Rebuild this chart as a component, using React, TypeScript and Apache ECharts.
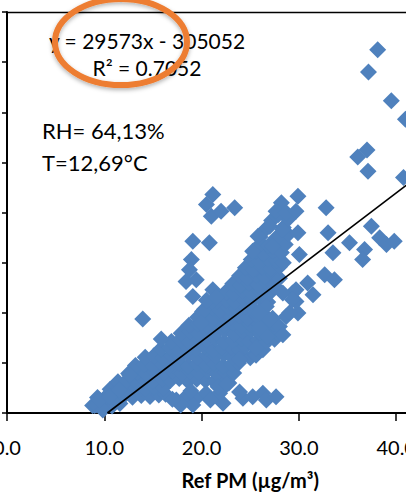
import React, { useEffect, useRef } from "react";
import * as echarts from "echarts";

// Trendline (from the chart's label)
const slope = 29573;
const intercept = -305052;
const equationText = "y = 29573x - 305052";
const r2Text = "R² = 0.7052";
const rhText = "RH= 64,13%";
const tText = "T=12,69°C";
const xAxisTitle = "Ref PM (µg/m³)";

const xTicks = { min: 0, max: 50, interval: 10 };
const yTicks = { min: 0, max: 1600000, interval: 200000 };

const highOutliers: number[][] = [
  [38.1, 1449000], [37.15, 1361000], [39.5, 1246000], [40.95, 1172000],
  [37.0, 1049000], [36.05, 1021000], [37.1, 965000], [40.75, 940000],
];

const upperCluster: number[][] = [
  [29.9, 865000], [21.15, 872000], [20.5, 832000], [21.0, 785000], [22.0, 805000],
  [23.4, 819000], [28.2, 839000], [27.65, 805000], [28.7, 799000], [29.7, 805000],
  [32.8, 819000], [25.8, 705000], [27.0, 745000], [28.35, 732000], [29.9, 719000],
  [33.0, 719000], [19.1, 685000], [20.8, 679000], [25.25, 645000], [27.3, 665000],
  [30.05, 632000], [33.5, 639000], [35.2, 679000], [36.75, 652000], [37.45, 745000],
  [38.3, 699000], [39.0, 672000], [39.8, 685000], [36.55, 612000], [18.95, 612000],
  [18.75, 572000], [18.4, 525000], [19.45, 532000], [19.1, 465000], [21.15, 492000],
  [21.15, 445000], [20.1, 405000], [19.95, 359000], [20.5, 450000], [21.5, 462000],
];

const rightScatter: number[][] = [
  [32.65, 552000], [33.65, 532000], [30.9, 519000], [31.45, 472000], [29.35, 479000],
  [28.35, 479000], [29.9, 399000], [28.7, 385000], [28.0, 345000], [28.35, 312000],
  [26.8, 305000], [25.6, 259000], [23.9, 212000], [25.95, 339000], [27.0, 372000],
  [26.65, 425000], [25.95, 399000], [29.05, 400000], [29.7, 445000], [29.7, 492000],
  [29.35, 452000], [13.95, 375000], [15.85, 295000],
];

const bottomCluster: number[][] = [
  [17.4, 52000], [18.4, 65000], [19.45, 59000], [20.45, 79000], [19.1, 32000],
  [22.2, 39000], [21.85, 79000], [24.25, 59000], [25.25, 65000], [26.3, 79000],
  [26.65, 52000], [27.65, 65000], [17.85, 32000], [20.9, 52000], [23.9, 84000],
  [17.0, 55000], [18.9, 88000], [21.7, 105000], [22.6, 115000],
  [8.8, 30000], [9.15, 32000], [9.85, 12000], [9.5, 52000], [10.55, 65000],
  [11.55, 92000], [12.6, 152000],
];

const mainBand: number[][] = [
  [9.0, 30000], [9.9, 35000], [10.8, 28000], [11.6, 38000],
  [9.3, 62000], [10.2, 66000], [11.1, 60000], [12.0, 68000], [12.9, 63000], [13.8, 70000], [14.7, 66000], [15.6, 72000], [16.3, 75000],
  [10.6, 95000], [11.5, 99000], [12.4, 93000], [13.3, 100000], [14.2, 97000], [15.1, 104000], [16.0, 100000],
  [11.4, 125000], [12.3, 130000], [13.2, 126000], [14.1, 133000], [15.0, 128000], [15.9, 136000], [16.8, 130000], [17.7, 138000], [18.6, 127000], [19.5, 135000], [20.4, 130000], [21.3, 126000], [22.2, 134000], [22.8, 120000],
  [12.5, 158000], [13.4, 163000], [14.3, 157000], [15.2, 165000], [16.1, 160000], [17.0, 168000], [17.9, 158000], [18.8, 166000], [19.7, 161000], [20.6, 170000], [21.5, 158000], [22.4, 165000], [23.3, 160000],
  [13.2, 190000], [14.1, 195000], [15.0, 188000], [15.9, 198000], [16.8, 192000], [17.7, 200000], [18.6, 189000], [19.5, 197000], [20.4, 193000], [21.3, 200000], [22.2, 188000], [23.1, 195000], [23.8, 200000],
  [14.2, 222000], [15.1, 228000], [16.0, 220000], [16.9, 230000], [17.8, 224000], [18.7, 232000], [19.6, 221000], [20.5, 228000], [21.4, 225000], [22.3, 233000], [23.2, 222000], [24.2, 229000], [25.0, 220000], [25.6, 230000],
  [15.8, 255000], [16.7, 260000], [17.6, 252000], [18.5, 262000], [19.4, 256000], [20.3, 264000], [21.2, 250000], [22.1, 258000], [23.0, 263000], [23.9, 254000], [24.5, 266000], [26.3, 252000],
  [16.9, 285000], [17.8, 292000], [18.7, 284000], [19.6, 295000], [20.5, 288000], [21.4, 296000], [22.3, 283000], [23.2, 290000], [24.1, 298000], [24.9, 286000], [25.8, 290000], [26.7, 284000], [27.5, 294000],
  [17.9, 318000], [18.8, 325000], [19.7, 316000], [20.6, 327000], [21.5, 320000], [22.4, 328000], [23.3, 315000], [24.2, 324000], [25.1, 330000], [26.0, 318000], [26.9, 324000], [27.8, 316000],
  [18.7, 350000], [19.6, 356000], [20.5, 348000], [21.4, 358000], [22.3, 351000], [23.2, 360000], [24.1, 347000], [25.0, 355000], [25.7, 362000], [26.6, 350000], [27.4, 356000],
  [19.6, 382000], [20.5, 388000], [21.3, 380000], [22.1, 391000], [23.0, 383000], [23.9, 390000], [24.8, 379000], [25.7, 387000], [26.6, 383000], [27.3, 378000],
  [20.3, 414000], [21.1, 420000], [21.9, 412000], [22.7, 423000], [23.6, 416000], [24.5, 424000], [25.4, 410000], [26.2, 419000],
  [21.6, 446000], [22.5, 452000], [23.4, 444000], [24.3, 455000], [25.2, 448000], [26.1, 456000], [26.8, 443000],
  [22.5, 484000], [23.3, 476000], [24.2, 487000], [25.1, 480000], [26.0, 488000], [26.9, 475000],
  [23.2, 516000], [24.0, 508000], [24.9, 519000], [25.8, 512000], [26.7, 520000], [27.5, 506000],
  [23.9, 548000], [24.7, 540000], [25.6, 551000], [26.5, 544000], [27.4, 552000], [28.0, 538000],
  [24.5, 580000], [25.3, 572000], [26.2, 583000], [27.1, 576000], [28.0, 584000],
  [25.1, 612000], [25.9, 604000], [26.8, 615000], [27.7, 608000], [28.4, 600000],
  [25.6, 645000], [26.4, 636000], [27.3, 646000], [28.2, 640000],
  [26.1, 676000], [26.9, 668000], [28.6, 672000],
  [26.0, 702000], [27.7, 700000], [28.9, 712000],
  [26.6, 734000], [28.4, 740000],
  [27.2, 768000], [28.9, 774000],
  [27.9, 792000],
];

const trendXEnd = 45;

const FONT = "Lato, 'Open Sans', sans-serif";

export default function App() {
  const ref = useRef<HTMLDivElement>(null);

  useEffect(() => {
    if (!ref.current) return;
    const chart = echarts.init(ref.current, undefined, { renderer: "svg" });
    const points = [...mainBand, ...bottomCluster, ...rightScatter, ...upperCluster, ...highOutliers];
    const x0 = -intercept / slope;
    const trend = [
      [x0, slope * x0 + intercept],
      [trendXEnd, slope * trendXEnd + intercept],
    ];
    chart.setOption({
      animation: false,
      backgroundColor: "#ffffff",
      grid: { left: 7, top: 12, width: 486.5, height: 401, containLabel: false, outerBoundsMode: "none" },
      xAxis: [
        {
          type: "value",
          min: xTicks.min,
          max: xTicks.max,
          interval: xTicks.interval,
          position: "bottom",
          axisLine: { show: true, onZero: false, lineStyle: { color: "#000", width: 2 } },
          axisTick: { show: true, inside: false, length: 8, lineStyle: { color: "#000", width: 1.5 } },
          axisLabel: {
            show: true,
            margin: 24,
            fontSize: 20,
            fontFamily: FONT,
            color: "#000",
            formatter: (v: number) => v.toFixed(1),
          },
          splitLine: { show: false },
          name: xAxisTitle,
          nameLocation: "middle",
          nameGap: 57,
          nameTextStyle: { fontSize: 20, fontWeight: "bold", fontFamily: FONT, color: "#000" },
        },
        {
          type: "value",
          min: xTicks.min,
          max: xTicks.max,
          position: "top",
          axisLine: { show: true, onZero: false, lineStyle: { color: "#000", width: 1.3 } },
          axisTick: { show: false },
          axisLabel: { show: false },
          splitLine: { show: false },
        },
      ],
      yAxis: {
        type: "value",
        min: yTicks.min,
        max: yTicks.max,
        interval: yTicks.interval,
        axisLine: { show: true, onZero: false, lineStyle: { color: "#000", width: 2 } },
        axisTick: { show: true, inside: false, length: 5, lineStyle: { color: "#000", width: 1.5 } },
        axisLabel: { show: false },
        splitLine: { show: false },
      },
      series: [
        {
          type: "scatter",
          data: points,
          symbol: "diamond",
          symbolSize: 17,
          itemStyle: { color: "#4F81BD", opacity: 1 },
          z: 2,
          silent: true,
        },
        {
          type: "line",
          data: trend,
          showSymbol: false,
          symbol: "none",
          lineStyle: { color: "#000", width: 1.6 },
          z: 3,
          silent: true,
          clip: true,
        },
      ],
      graphic: [
        {
          type: "text",
          x: 147,
          y: 40,
          z: 10,
          style: { text: equationText, fontSize: 21, fontFamily: FONT, fill: "#000", textAlign: "center", textVerticalAlign: "middle" },
        },
        {
          type: "text",
          x: 147,
          y: 67,
          z: 10,
          style: { text: r2Text, fontSize: 21, fontFamily: FONT, fill: "#000", textAlign: "center", textVerticalAlign: "middle" },
        },
        {
          type: "text",
          x: 42,
          y: 130,
          z: 10,
          style: { text: rhText, fontSize: 22, fontFamily: FONT, fill: "#000", textAlign: "left", textVerticalAlign: "middle" },
        },
        {
          type: "text",
          x: 42,
          y: 162,
          z: 10,
          style: { text: tText, fontSize: 22, fontFamily: FONT, fill: "#000", textAlign: "left", textVerticalAlign: "middle" },
        },
        {
          type: "ellipse",
          z: 20,
          shape: { cx: 121, cy: 42, rx: 66, ry: 43 },
          style: {
            fill: "none",
            stroke: "#ED7D31",
            lineWidth: 6,
            shadowBlur: 4,
            shadowOffsetY: 2,
            shadowColor: "rgba(0,0,0,0.3)",
          },
        },
      ],
    });
    return () => chart.dispose();
  }, []);

  return (
    <div
      ref={ref}
      style={{ position: "fixed", left: 0, top: 0, width: 520, height: 498, background: "#fff" }}
    />
  );
}
